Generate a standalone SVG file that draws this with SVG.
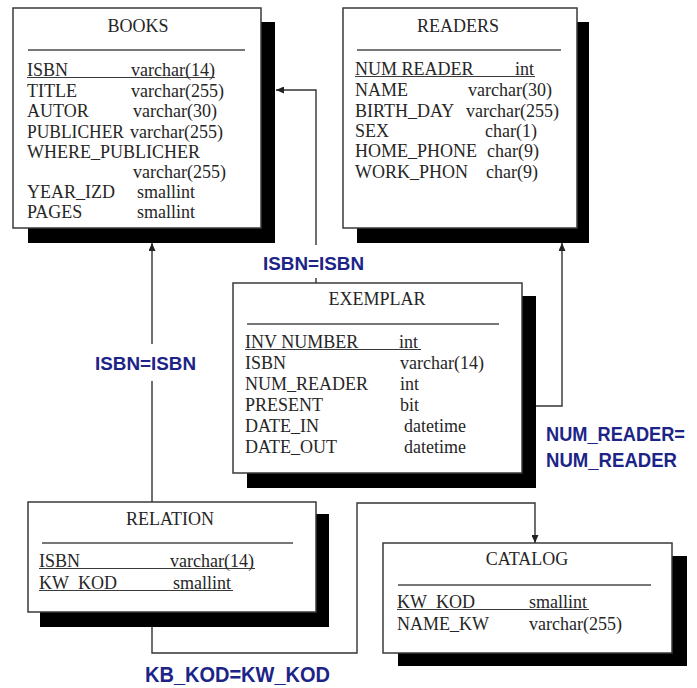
<svg xmlns="http://www.w3.org/2000/svg" width="697" height="688" viewBox="0 0 697 688">
  <style>
    .box { fill: #ffffff; stroke: #3a3a3a; stroke-width: 1.5; }
    .shadow { fill: #000000; }
    .sep { stroke: #4a4a4a; stroke-width: 1.6; }
    .ul { stroke: #3a3a3a; stroke-width: 1.2; }
    .t { font-family: "Liberation Serif", "Times New Roman", serif; font-size: 18px; fill: #262626; }
    .h { text-anchor: middle; }
    .conn { fill: none; stroke: #333333; stroke-width: 1.4; }
    .lbl { font-family: "Liberation Sans", Arial, sans-serif; font-weight: bold; fill: #1d2488; }
  </style>
  <defs>
    <marker id="arrow" markerWidth="8" markerHeight="7" refX="8" refY="3.5" orient="auto" markerUnits="userSpaceOnUse">
      <path d="M0,0 L8,3.5 L0,7 Z" fill="#222222"/>
    </marker>
  </defs>

  <rect width="697" height="688" fill="#ffffff"/>

  <!-- relationship lines -->
  <g id="connectors">
    <path class="conn" d="M152,502 V381 M152,344 V243" marker-end="url(#arrow)"/>
    <path class="conn" d="M316,283 V278 M316,245 V90 H276" marker-end="url(#arrow)"/>
    <path class="conn" d="M536,406 H562 V243" marker-end="url(#arrow)"/>
    <path class="conn" d="M152,627 V653 H357 V503 H535 V543" marker-end="url(#arrow)"/>
  </g>

  <!-- BOOKS table -->
  <g id="books">
    <rect class="shadow" x="28" y="22" width="247" height="221"/>
    <rect class="box" x="13" y="8" width="248" height="220"/>
    <text class="t h" x="138" y="32">BOOKS</text>
    <line class="sep" x1="28" y1="50" x2="245" y2="50"/>
    <text class="t" x="27" y="76">ISBN</text><text class="t" x="131" y="76">varchar(14)</text>
    <line class="ul" x1="27" y1="77.5" x2="215" y2="77.5"/>
    <text class="t" x="27" y="97">TITLE</text><text class="t" x="131" y="97">varchar(255)</text>
    <text class="t" x="27" y="117">AUTOR</text><text class="t" x="133" y="117">varchar(30)</text>
    <text class="t" x="27" y="138" textLength="97" lengthAdjust="spacingAndGlyphs">PUBLICHER</text><text class="t" x="130" y="138">varchar(255)</text>
    <text class="t" x="27" y="158">WHERE_PUBLICHER</text>
    <text class="t" x="133" y="178">varchar(255)</text>
    <text class="t" x="27" y="198">YEAR_IZD</text><text class="t" x="137" y="198">smallint</text>
    <text class="t" x="27" y="218">PAGES</text><text class="t" x="137" y="218">smallint</text>
  </g>

  <!-- READERS table -->
  <g id="readers">
    <rect class="shadow" x="357" y="22" width="232" height="221"/>
    <rect class="box" x="343" y="8" width="234" height="220"/>
    <text class="t h" x="458" y="32">READERS</text>
    <line class="sep" x1="357" y1="50" x2="561" y2="50"/>
    <text class="t" x="355" y="75">NUM READER</text><text class="t" x="515" y="75">int</text>
    <line class="ul" x1="355" y1="76.5" x2="535" y2="76.5"/>
    <text class="t" x="355" y="96">NAME</text><text class="t" x="468" y="96">varchar(30)</text>
    <text class="t" x="355" y="117">BIRTH_DAY</text><text class="t" x="466" y="117">varchar(255)</text>
    <text class="t" x="355" y="137">SEX</text><text class="t" x="485" y="137">char(1)</text>
    <text class="t" x="355" y="157">HOME_PHONE</text><text class="t" x="487" y="157">char(9)</text>
    <text class="t" x="355" y="178">WORK_PHON</text><text class="t" x="486" y="178">char(9)</text>
  </g>

  <!-- EXEMPLAR table -->
  <g id="exemplar">
    <rect class="shadow" x="247" y="296" width="289" height="192"/>
    <rect class="box" x="233" y="283" width="289" height="190"/>
    <text class="t h" x="377" y="305">EXEMPLAR</text>
    <line class="sep" x1="247" y1="324" x2="499" y2="324"/>
    <text class="t" x="245" y="348">INV NUMBER</text><text class="t" x="399" y="348">int</text>
    <line class="ul" x1="245" y1="349.5" x2="421" y2="349.5"/>
    <text class="t" x="245" y="369">ISBN</text><text class="t" x="400" y="369">varchar(14)</text>
    <text class="t" x="245" y="390">NUM_READER</text><text class="t" x="400" y="390">int</text>
    <text class="t" x="245" y="411">PRESENT</text><text class="t" x="400" y="411">bit</text>
    <text class="t" x="245" y="432">DATE_IN</text><text class="t" x="404" y="432">datetime</text>
    <text class="t" x="245" y="453">DATE_OUT</text><text class="t" x="404" y="453">datetime</text>
  </g>

  <!-- RELATION table -->
  <g id="relation">
    <rect class="shadow" x="40" y="514" width="289" height="113"/>
    <rect class="box" x="28" y="502" width="288" height="110"/>
    <text class="t h" x="170" y="525">RELATION</text>
    <line class="sep" x1="42" y1="543" x2="293" y2="543"/>
    <text class="t" x="39" y="567">ISBN</text><text class="t" x="170" y="567">varchar(14)</text>
    <line class="ul" x1="39" y1="568.5" x2="255" y2="568.5"/>
    <text class="t" x="39" y="589">KW_KOD</text><text class="t" x="173" y="589">smallint</text>
    <line class="ul" x1="39" y1="590.5" x2="233" y2="590.5"/>
  </g>

  <!-- CATALOG table -->
  <g id="catalog">
    <rect class="shadow" x="398" y="556" width="289" height="110"/>
    <rect class="box" x="383" y="543" width="289" height="110"/>
    <text class="t h" x="527" y="565">CATALOG</text>
    <line class="sep" x1="398" y1="585" x2="651" y2="585"/>
    <text class="t" x="397" y="608">KW_KOD</text><text class="t" x="529" y="608">smallint</text>
    <line class="ul" x1="397" y1="609.5" x2="589" y2="609.5"/>
    <text class="t" x="397" y="630">NAME_KW</text><text class="t" x="529" y="630">varchar(255)</text>
  </g>

  <!-- relationship labels -->
  <g id="labels">
    <text class="lbl" x="263" y="270" font-size="18" textLength="101" lengthAdjust="spacingAndGlyphs">ISBN=ISBN</text>
    <text class="lbl" x="95" y="370" font-size="18" textLength="101" lengthAdjust="spacingAndGlyphs">ISBN=ISBN</text>
    <text class="lbl" transform="translate(546,441) scale(1,1.12)" font-size="18" textLength="139" lengthAdjust="spacingAndGlyphs">NUM_READER=</text>
    <text class="lbl" transform="translate(546,467) scale(1,1.12)" font-size="18" textLength="131" lengthAdjust="spacingAndGlyphs">NUM_READER</text>
    <text class="lbl" x="145" y="682" font-size="22" textLength="185" lengthAdjust="spacingAndGlyphs">KB_KOD=KW_KOD</text>
  </g>
</svg>
